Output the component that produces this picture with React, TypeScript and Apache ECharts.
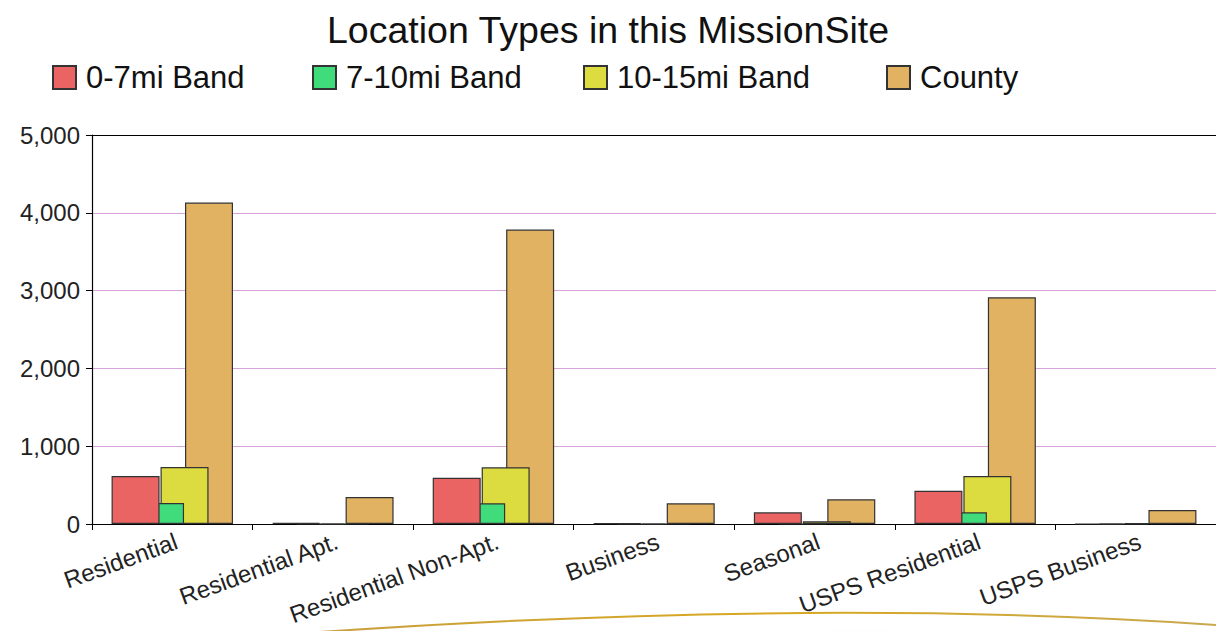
import React, { useEffect, useRef } from "react";
import * as echarts from "echarts";

const categories = [
  "Residential",
  "Residential Apt.",
  "Residential Non-Apt.",
  "Business",
  "Seasonal",
  "USPS Residential",
  "USPS Business",
];
const seriesNames = ["0-7mi Band", "7-10mi Band", "10-15mi Band", "County"];
const band0to7 = [617, 15, 595, 10, 150, 428, 0];
const band7to10 = [270, 0, 266, 0, 0, 150, 0];
const band10to15 = [733, 0, 729, 0, 35, 617, 10];
const county = [4132, 347, 3785, 266, 317, 2915, 180];
const yTicks = [0, 1000, 2000, 3000, 4000, 5000];

const colors = ["#EA6464", "#40DC7C", "#DCDC40", "#E0B262"];
const legendLefts = [47, 307, 578, 881];
const FONT = "'Liberation Sans', Arial, Helvetica, sans-serif";

export default function App() {
  const ref = useRef<HTMLDivElement>(null);
  useEffect(() => {
    if (!ref.current) return;
    const chart = echarts.init(ref.current, undefined, { renderer: "svg" });
    const dataSets = [band0to7, band7to10, band10to15, county];
    const series = dataSets.map((d, i) => ({
      name: seriesNames[i],
      type: "bar",
      data: d,
      barWidth: 48,
      barGap: "-49%",
      z: 5 - i,
      itemStyle: { color: colors[i], borderColor: "#333", borderWidth: 1.2 },
    }));
    const legends = seriesNames.map((n, i) => ({
      left: legendLefts[i],
      top: 57,
      itemWidth: 23,
      itemHeight: 23,
      icon: "rect",
      data: [n],
      textStyle: {
        fontFamily: FONT,
        fontSize: 31,
        lineHeight: 30,
        color: "#111",
        padding: [0, 0, 0, 5],
      },
    }));
    chart.setOption({
      animation: false,
      backgroundColor: "#fff",
      title: {
        text: "Location Types in this MissionSite",
        left: "center",
        top: 6,
        textStyle: { fontFamily: FONT, fontSize: 37.5, fontWeight: "normal", color: "#111" },
      },
      legend: legends,
      grid: { left: 92, top: 135, width: 1130, height: 389, containLabel: false },
      xAxis: {
        type: "category",
        data: categories,
        axisLine: { lineStyle: { color: "#000", width: 1.2 } },
        axisTick: { show: true, length: 6, lineStyle: { color: "#000" } },
        axisLabel: {
          rotate: 20,
          interval: 0,
          margin: 5,
          verticalAlign: "top",
          fontFamily: FONT,
          fontSize: 24,
          color: "#222",
        },
      },
      yAxis: {
        type: "value",
        min: yTicks[0],
        max: yTicks[yTicks.length - 1],
        interval: 1000,
        axisLine: { show: true, lineStyle: { color: "#000", width: 1.2 } },
        axisTick: { show: true, length: 6, lineStyle: { color: "#000" } },
        axisLabel: {
          margin: 12,
          fontFamily: FONT,
          fontSize: 24,
          color: "#222",
          formatter: (v: number) => v.toLocaleString("en-US"),
        },
        splitLine: {
          show: true,
          lineStyle: {
            color: ["#000", "#D9A3DC", "#D9A3DC", "#D9A3DC", "#D9A3DC", "#000"],
            width: 1.2,
          },
        },
      },
      graphic: [
        {
          type: "ellipse",
          shape: { cx: 860, cy: 642, rx: 380, ry: 14 },
          style: {
            fill: new echarts.graphic.RadialGradient(0.5, 0.5, 0.5, [
              { offset: 0, color: "rgba(170,170,170,0.7)" },
              { offset: 1, color: "rgba(255,255,255,0)" },
            ]),
          },
          silent: true,
          z: 0,
        },
        {
          type: "bezierCurve",
          shape: { x1: 320, y1: 632, cpx1: 700, cpy1: 606, cpx2: 1000, cpy2: 610, x2: 1216, y2: 625 },
          style: {
            stroke: new echarts.graphic.LinearGradient(0, 0, 1, 0, [
              { offset: 0, color: "#C8A040" },
              { offset: 0.5, color: "#D8A820" },
              { offset: 1, color: "#C8A850" },
            ]),
            lineWidth: 2,
            fill: null,
          },
          silent: true,
          z: 1,
        },
      ],
      series,
    });
    return () => chart.dispose();
  }, []);
  return (
    <div
      ref={ref}
      style={{ position: "fixed", left: 0, top: 0, width: 1216, height: 631, background: "#fff" }}
    />
  );
}
